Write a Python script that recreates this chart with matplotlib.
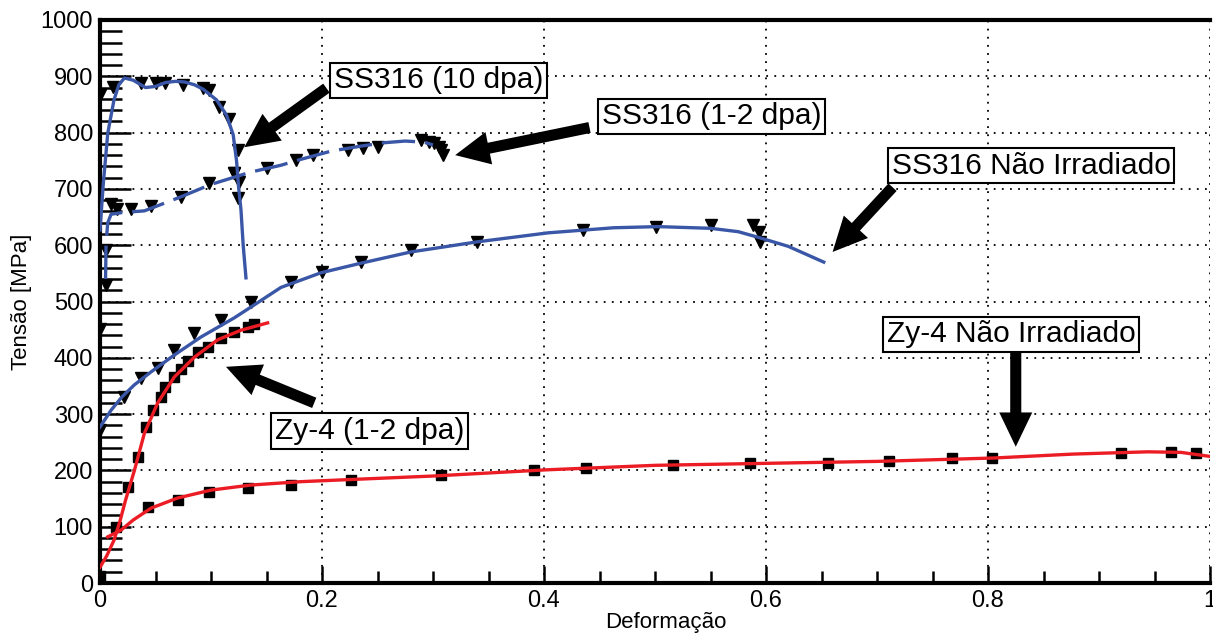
import matplotlib
matplotlib.use("Agg")
import matplotlib.pyplot as plt
from matplotlib.ticker import MultipleLocator

plt.rcParams['font.family'] = ['Liberation Sans', 'DejaVu Sans']

BLUE = "#3a56a6"
RED = "#ec1c24"

# SS316 (10 dpa) - fitted curve and measured points
ss10_line_x = [0.0, 0.003, 0.007, 0.0126, 0.017, 0.022, 0.03, 0.041, 0.05, 0.059, 0.068,
               0.076, 0.085, 0.093, 0.105, 0.114, 0.12, 0.123, 0.125, 0.127, 0.129, 0.1315]
ss10_line_y = [627, 710, 799, 858, 885, 897, 893, 880, 882, 889, 891,
               890, 885, 877, 858, 831, 796, 750, 700, 663, 600, 542]
ss10_pts_x = [0.0, 0.012, 0.037, 0.05, 0.059, 0.075, 0.093, 0.098, 0.107, 0.116,
              0.124, 0.121, 0.125, 0.124]
ss10_pts_y = [867, 881, 888, 888, 888, 884, 879, 876, 845, 824, 769, 728, 712, 684]

# SS316 (1-2 dpa)
ss12_line_x = [0.005, 0.0055, 0.007, 0.01, 0.02, 0.04, 0.073, 0.1, 0.136, 0.163, 0.18,
               0.208, 0.235, 0.256, 0.275, 0.292, 0.3]
ss12_line_y = [540, 605, 640, 655, 658, 661, 686, 708, 730, 742, 752,
               767, 776, 782, 785, 783, 778]
ss12_pts_x = [0.005, 0.005, 0.01, 0.015, 0.028, 0.046, 0.073, 0.098, 0.121, 0.15, 0.177,
              0.192, 0.223, 0.237, 0.25, 0.289, 0.296, 0.301, 0.305, 0.307, 0.309]
ss12_pts_y = [591, 530, 673, 664, 664, 670, 686, 710, 728, 737, 751,
              760, 769, 773, 774, 787, 784, 781, 775, 769, 760]

# SS316 Nao Irradiado
ssni_line_x = [0.0, 0.01, 0.02, 0.031, 0.046, 0.067, 0.091, 0.121, 0.139, 0.163, 0.199,
               0.235, 0.28, 0.34, 0.404, 0.463, 0.503, 0.55, 0.575, 0.593, 0.62, 0.652]
ssni_line_y = [277, 307, 331, 352, 375, 405, 437, 471, 494, 525, 551,
               568, 588, 606, 622, 631, 633, 630, 624, 614, 598, 570]
ssni_pts_x = [0.0, 0.0, 0.022, 0.037, 0.052, 0.067, 0.085, 0.109, 0.136, 0.172, 0.2,
              0.235, 0.28, 0.34, 0.435, 0.501, 0.55, 0.588, 0.594, 0.595]
ssni_pts_y = [452, 272, 330, 364, 382, 414, 444, 467, 499, 535, 552,
              570, 591, 606, 627, 632, 636, 636, 623, 606]

# Zy-4 (1-2 dpa)
zy12_line_x = [0.0, 0.006, 0.0126, 0.018, 0.023, 0.031, 0.04, 0.052, 0.067, 0.085,
               0.106, 0.127, 0.151]
zy12_line_y = [28, 48, 76, 110, 147, 200, 266, 320, 366, 401, 432, 449, 462]
zy12_pts_x = [0.0, 0.014, 0.025, 0.034, 0.041, 0.048, 0.055, 0.059, 0.067, 0.073,
              0.079, 0.088, 0.097, 0.109, 0.121, 0.133, 0.139]
zy12_pts_y = [12, 99, 171, 224, 277, 307, 330, 348, 366, 380,
              395, 410, 420, 436, 445, 455, 460]

# Zy-4 Nao Irradiado
zyni_line_x = [0.007, 0.019, 0.03, 0.046, 0.07, 0.1, 0.136, 0.181, 0.24, 0.3, 0.402, 0.5,
               0.613, 0.7, 0.805, 0.877, 0.944, 0.974, 1.003]
zyni_line_y = [82, 94, 112, 133, 151, 165, 174, 180, 185, 190, 201, 209,
               213, 216, 222, 229, 233, 232, 224]
zyni_pts_x = [0.043, 0.07, 0.098, 0.133, 0.172, 0.226, 0.307, 0.391, 0.438, 0.516,
              0.586, 0.656, 0.711, 0.768, 0.804, 0.92, 0.965, 0.987]
zyni_pts_y = [135, 147, 162, 169, 174, 183, 192, 201, 204, 210,
              213, 213, 217, 222, 222, 231, 233, 231]

# labels: (text, box centre, arrow tail, arrow tip)
labels = [
    ("SS316 (10 dpa)", (0.305, 893), (0.204, 879), (0.130, 774)),
    ("SS316 (1-2 dpa)", (0.551, 829), (0.441, 809), (0.320, 760)),
    ("SS316 Não Irradiado", (0.839, 741), (0.714, 703), (0.660, 588)),
    ("Zy-4 (1-2 dpa)", (0.243, 270), (0.193, 320), (0.1135, 384)),
    ("Zy-4 Não Irradiado", (0.821, 442), (0.825, 410), (0.825, 242)),
]


def main():
    fig = plt.figure(figsize=(12.13, 6.35), dpi=100)
    ax = fig.add_axes([100 / 1213, 1 - 583 / 635, 1110 / 1213, 563 / 635])

    mk = dict(ls="none", color="black", zorder=3)
    ax.plot(ss10_pts_x, ss10_pts_y, marker="v", ms=9, **mk)
    ax.plot(ss12_pts_x, ss12_pts_y, marker="v", ms=9, **mk)
    ax.plot(ssni_pts_x, ssni_pts_y, marker="v", ms=9, **mk)
    ax.plot(zy12_pts_x, zy12_pts_y, marker="s", ms=7.5, **mk)
    ax.plot(zyni_pts_x, zyni_pts_y, marker="s", ms=7.5, **mk)

    ax.plot(ss10_line_x, ss10_line_y, color=BLUE, lw=2.4, zorder=4)
    ax.plot(ss12_line_x, ss12_line_y, color=BLUE, lw=2.4, dashes=(10, 3), zorder=4)
    ax.plot(ssni_line_x, ssni_line_y, color=BLUE, lw=2.4, zorder=4)
    ax.plot(zy12_line_x, zy12_line_y, color=RED, lw=2.4, zorder=4)
    ax.plot(zyni_line_x, zyni_line_y, color=RED, lw=2.4, zorder=4)

    ax.set_xlim(0, 1)
    ax.set_ylim(0, 1000)
    ax.xaxis.set_minor_locator(MultipleLocator(0.05))
    ax.yaxis.set_major_locator(MultipleLocator(100))
    ax.yaxis.set_minor_locator(MultipleLocator(20))
    ax.set_xticks([0, 0.2, 0.4, 0.6, 0.8, 1.0])
    ax.set_xticklabels(["0", "0.2", "0.4", "0.6", "0.8", "1"])

    ax.tick_params(axis="both", which="both", direction="in", labelsize=17,
                   color="black", width=1.8)
    ax.tick_params(axis="y", which="major", length=22, pad=5)
    ax.tick_params(axis="y", which="minor", length=16)
    ax.tick_params(axis="x", which="major", length=12, pad=5)
    ax.tick_params(axis="x", which="minor", length=9)
    ax.tick_params(top=False, right=False)

    ax.grid(True, which="major", color="black", lw=1.3, ls=(0, (1, 3.5)))
    ax.set_axisbelow(True)

    for side in ["left", "bottom", "top"]:
        ax.spines[side].set_linewidth(3)
    ax.spines["right"].set_visible(False)

    ax.set_xlabel("Deformação", fontsize=16)
    ax.xaxis.set_label_coords(0.51, -0.052)
    ax.set_ylabel("Tensão [MPa]", fontsize=16, labelpad=6)

    for text, centre, tail, tip in labels:
        ax.annotate("", xy=tip, xytext=tail, zorder=6,
                    arrowprops=dict(arrowstyle="simple,head_length=1.3,head_width=1.25,tail_width=0.42",
                                    mutation_scale=19, fc="black", ec="black", lw=0,
                                    shrinkA=0, shrinkB=0))
        ax.text(centre[0], centre[1], text, fontsize=21.5, ha="center", va="center", zorder=7,
                bbox=dict(boxstyle="square,pad=0.12", fc="white", ec="black", lw=1.5))

    fig.savefig("out.png", dpi=100)


if __name__ == '__main__':
    main()
